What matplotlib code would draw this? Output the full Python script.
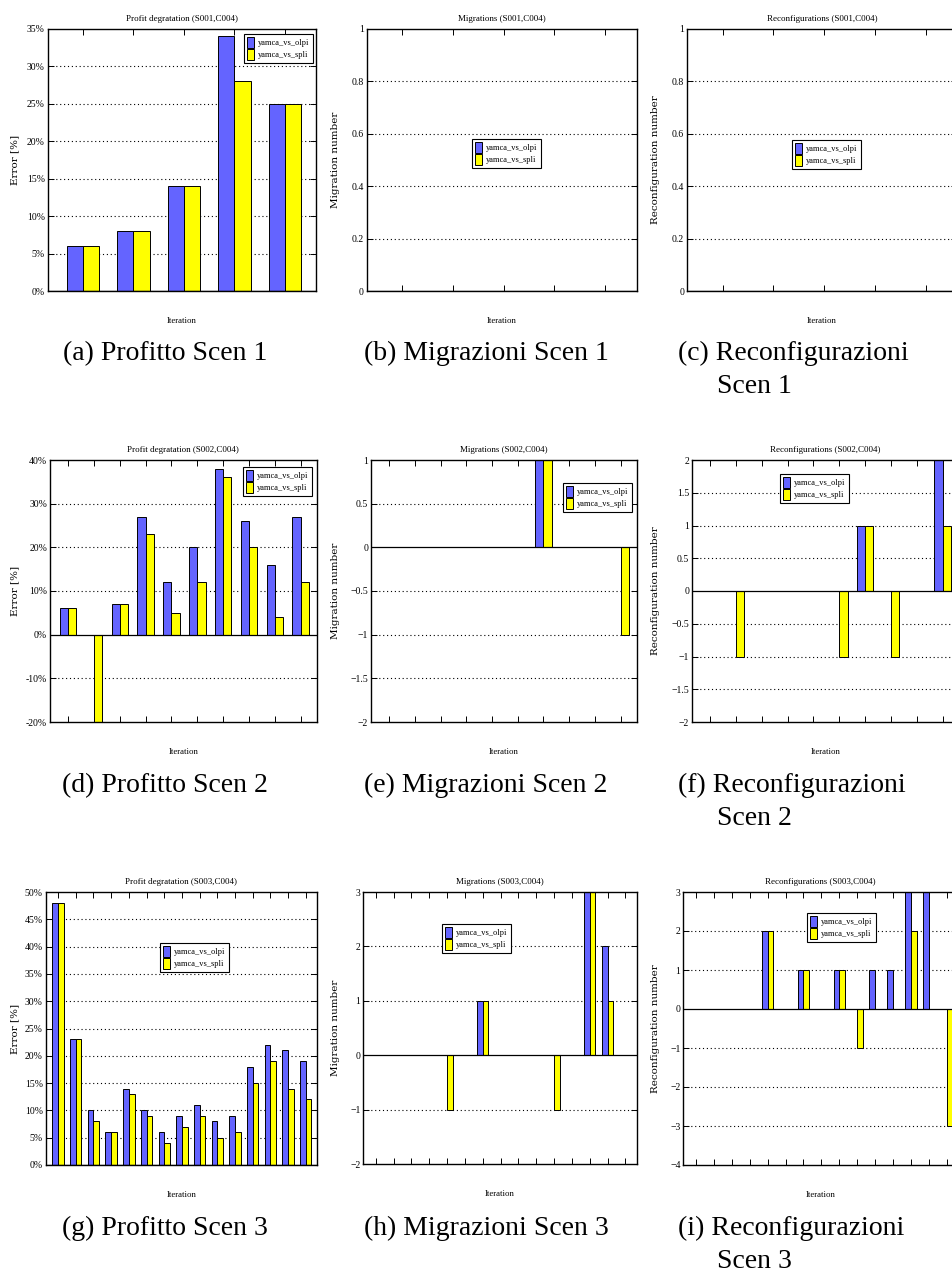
import matplotlib
matplotlib.use('Agg')
import matplotlib.pyplot as plt
from matplotlib.ticker import FuncFormatter

W, H = 952, 1282

# scenario 1 (5 iterations)
profit1_olpi = [6, 8, 14, 34, 25]
profit1_spli = [6, 8, 14, 28, 25]
mig1_olpi = [0, 0, 0, 0, 0]
mig1_spli = [0, 0, 0, 0, 0]
rec1_olpi = [0, 0, 0, 0, 0]
rec1_spli = [0, 0, 0, 0, 0]

# scenario 2 (10 iterations)
profit2_olpi = [6, 0, 7, 27, 12, 20, 38, 26, 16, 27]
profit2_spli = [6, -20, 7, 23, 5, 12, 36, 20, 4, 12]
mig2_olpi = [0, 0, 0, 0, 0, 0, 1, 0, 0, 0]
mig2_spli = [0, 0, 0, 0, 0, 0, 1, 0, 0, -1]
rec2_olpi = [0, 0, 0, 0, 0, 0, 1, 0, 0, 2]
rec2_spli = [0, -1, 0, 0, 0, -1, 1, -1, 0, 1]

# scenario 3 (15 iterations)
profit3_olpi = [48, 23, 10, 6, 14, 10, 6, 9, 11, 8, 9, 18, 22, 21, 19]
profit3_spli = [48, 23, 8, 6, 13, 9, 4, 7, 9, 5, 6, 15, 19, 14, 12]
mig3_olpi = [0, 0, 0, 0, 0, 0, 1, 0, 0, 0, 0, 0, 3, 2, 0]
mig3_spli = [0, 0, 0, 0, -1, 0, 1, 0, 0, 0, -1, 0, 3, 1, 0]
rec3_olpi = [0, 0, 0, 0, 2, 0, 1, 0, 1, 0, 1, 1, 3, 3, 0]
rec3_spli = [0, 0, 0, 0, 2, 0, 1, 0, 1, -1, 0, 0, 2, 0, -3]

series_names = ['yamca_vs_olpi', 'yamca_vs_spli']
captions = ['(a) Profitto Scen 1', '(b) Migrazioni Scen 1', '(c) Reconfigurazioni',
            '(d) Profitto Scen 2', '(e) Migrazioni Scen 2', '(f) Reconfigurazioni',
            '(g) Profitto Scen 3', '(h) Migrazioni Scen 3', '(i) Reconfigurazioni']

BLUE = '#6464ff'
YELLOW = '#ffff00'
SERIF = 'Liberation Serif'

fig = plt.figure(figsize=(W / 100, H / 100), dpi=100)


def fx(px):
    return px / W


def fy(py):
    return 1 - py / H


def pct(v, p):
    return '%d%%' % v


def num(v, p):
    return ('%g' % v).replace('-', '\u2212')


def panel(box, olpi, spli, title, ylab, ylim, ystep, fmt, leg, ylab_x):
    l, t, r, b = box
    ax = fig.add_axes([fx(l), fy(b), (r - l) / W, (b - t) / H])
    n = len(olpi)
    x = list(range(1, n + 1))
    b1 = ax.bar([i - 0.16 for i in x], olpi, 0.32, color=BLUE, edgecolor='black', linewidth=0.7, zorder=3)
    b2 = ax.bar([i + 0.16 for i in x], spli, 0.32, color=YELLOW, edgecolor='black', linewidth=0.7, zorder=3)
    ax.set_xlim(0.3, n + 0.62)
    ax.set_ylim(*ylim)
    yt = []
    v = ylim[0]
    while v <= ylim[1] + 1e-9:
        yt.append(round(v, 3))
        v += ystep
    ax.set_yticks(yt)
    ax.yaxis.set_major_formatter(FuncFormatter(fmt))
    ax.set_xticks(x)
    ax.set_xticklabels([])
    ax.tick_params(axis='both', direction='in', top=True, right=True, length=4.2, width=0.7,
                   labelsize=7, pad=2)
    for lab in ax.get_yticklabels():
        lab.set_family(SERIF)
    for yv in yt:
        if ylim[0] < yv < ylim[1] and yv != 0:
            ax.axhline(yv, color='black', lw=0.8, ls=(0, (1, 2.5)), zorder=1)
    ax.axhline(0, color='black', lw=0.9, zorder=4)
    for s in ax.spines.values():
        s.set_linewidth(1.0)
        s.set_zorder(5)
    ax.set_title(title, fontsize=6.5, family=SERIF, pad=6)
    fig.text(fx(ylab_x), fy((t + b) / 2), ylab, rotation=90, ha='center', va='center',
             fontsize=7.5, family='DejaVu Serif')
    fig.text(fx((l + r) / 2), fy(b + 30), 'Iteration', ha='center', va='center',
             fontsize=6.3, family=SERIF)
    lg = ax.legend([b1, b2], series_names, loc='upper left',
                   bbox_to_anchor=(fx(leg[0]), fy(leg[1])), bbox_transform=fig.transFigure,
                   borderaxespad=0, fancybox=False, framealpha=1, edgecolor='black',
                   prop={'family': SERIF, 'size': 6}, handlelength=0.8, handleheight=1.6,
                   handletextpad=0.5, labelspacing=0.15, borderpad=0.4)
    lg.get_frame().set_linewidth(0.8)
    lg.set_zorder(6)
    return ax


panel((47.7, 29, 316.2, 291), profit1_olpi, profit1_spli, 'Profit degratation (S001,C004)',
      'Error [%]', (0, 35), 5, pct, (244, 34), 15)
panel((366.7, 29, 636.7, 291), mig1_olpi, mig1_spli, 'Migrations (S001,C004)',
      'Migration number', (0, 1), 0.2, num, (471.7, 139), 335)
panel((687, 29, 957, 291), rec1_olpi, rec1_spli, 'Reconfigurations (S001,C004)',
      'Reconfiguration number', (0, 1), 0.2, num, (791.7, 140), 655)

panel((50, 460, 316.7, 722), profit2_olpi, profit2_spli, 'Profit degratation (S002,C004)',
      'Error [%]', (-20, 40), 10, pct, (243, 466.7), 15)
panel((371, 460, 636.7, 722), mig2_olpi, mig2_spli, 'Migrations (S002,C004)',
      'Migration number', (-2, 1), 0.5, num, (563, 483), 335)
panel((692, 460, 958.7, 722), rec2_olpi, rec2_spli, 'Reconfigurations (S002,C004)',
      'Reconfiguration number', (-2, 2), 0.5, num, (780, 474), 655)

panel((45.7, 892, 316.7, 1165), profit3_olpi, profit3_spli, 'Profit degratation (S003,C004)',
      'Error [%]', (0, 50), 5, pct, (160, 943), 15)
panel((363.3, 892, 636.5, 1164), mig3_olpi, mig3_spli, 'Migrations (S003,C004)',
      'Migration number', (-2, 3), 1, num, (441.7, 924), 335)
panel((683.3, 892, 958, 1165), rec3_olpi, rec3_spli, 'Reconfigurations (S003,C004)',
      'Reconfiguration number', (-4, 3), 1, num, (806.7, 913), 655)

# sub captions
for row, base in enumerate([360, 792, 1235]):
    fig.text(fx(165), fy(base), captions[row * 3], ha='center', va='baseline',
             fontsize=20, family=SERIF)
    fig.text(fx(486), fy(base), captions[row * 3 + 1], ha='center', va='baseline',
             fontsize=20, family=SERIF)
    fig.text(fx(678), fy(base), captions[row * 3 + 2], ha='left', va='baseline',
             fontsize=20, family=SERIF)
    fig.text(fx(717), fy(base + 33), 'Scen %d' % (row + 1), ha='left', va='baseline',
             fontsize=20, family=SERIF)

fig.savefig('out.png', dpi=100)
